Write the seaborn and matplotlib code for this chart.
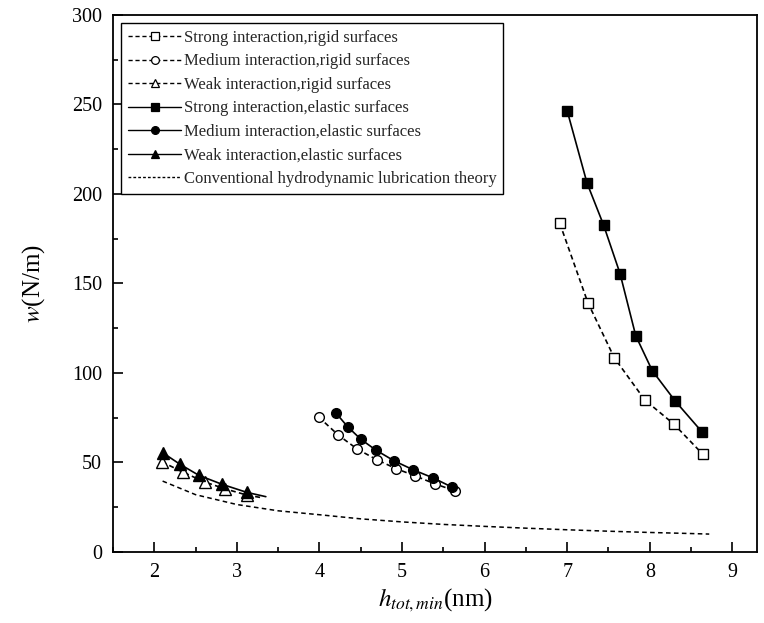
import matplotlib
matplotlib.use("Agg")
import matplotlib.pyplot as plt
import seaborn as sns
from matplotlib.lines import Line2D
from matplotlib.ticker import MultipleLocator

# ---- data ----
strong_rigid_h = [6.91, 7.25, 7.57, 7.94, 8.29, 8.64]
strong_rigid_w = [183.6, 139.3, 108.5, 84.9, 71.5, 54.7]

medium_rigid_h = [3.99, 4.23, 4.46, 4.70, 4.93, 5.16, 5.40, 5.64]
medium_rigid_w = [75.4, 65.2, 57.4, 51.4, 46.5, 42.5, 38.0, 34.2]

weak_rigid_h = [2.09, 2.35, 2.61, 2.86, 3.12, 3.28]
weak_rigid_w = [50.4, 44.5, 39.1, 35.2, 31.8, 30.5]

strong_elastic_h = [7.00, 7.24, 7.44, 7.64, 7.83, 8.03, 8.31, 8.63]
strong_elastic_w = [246.4, 206.1, 182.7, 155.5, 120.8, 101.3, 84.2, 67.2]

medium_elastic_h = [4.20, 4.34, 4.50, 4.68, 4.90, 5.13, 5.38, 5.61]
medium_elastic_w = [77.6, 70.0, 63.0, 57.0, 51.0, 46.0, 41.3, 36.1]

weak_elastic_h = [2.10, 2.31, 2.54, 2.82, 3.12, 3.35]
weak_elastic_w = [55.5, 49.0, 42.8, 37.8, 33.3, 30.9]

conv_h = [2.10, 2.50, 3.00, 3.50, 4.00, 4.50, 5.00, 5.50, 6.00, 6.50, 7.00, 7.50, 8.00, 8.50, 8.72]
conv_w = [39.6, 32.0, 26.5, 23.0, 20.8, 18.5, 16.8, 15.4, 14.3, 13.3, 12.4, 11.6, 10.9, 10.3, 10.0]

labels = [
    "Strong interaction,rigid surfaces",
    "Medium interaction,rigid surfaces",
    "Weak interaction,rigid surfaces",
    "Strong interaction,elastic surfaces",
    "Medium interaction,elastic surfaces",
    "Weak interaction,elastic surfaces",
    "Conventional hydrodynamic lubrication theory",
]

sns.set_theme(style="ticks")
plt.rcParams['font.family'] = ['Liberation Serif', 'DejaVu Serif']
plt.rcParams['mathtext.fontset'] = 'stix'

fig = plt.figure(figsize=(7.64, 6.23), dpi=100)
ax = fig.add_axes([0.148, 0.114, 0.843, 0.862])

dash_rigid = (0, (3, 2))
dash_conv = (0, (3, 2.2))

series = [
    (strong_rigid_h, strong_rigid_w, 's', 'white', dash_rigid, 6.5, None),
    (medium_rigid_h, medium_rigid_w, 'o', 'white', dash_rigid, 7, None),
    (weak_rigid_h, weak_rigid_w, '^', 'white', dash_rigid, 8, list(range(5))),
    (strong_elastic_h, strong_elastic_w, 's', 'black', '-', 6.5, None),
    (medium_elastic_h, medium_elastic_w, 'o', 'black', '-', 7, None),
    (weak_elastic_h, weak_elastic_w, '^', 'black', '-', 8, list(range(5))),
]

for h, w, mk, fc, ls, ms, me in series:
    kw = dict(markevery=me) if me is not None else {}
    sns.lineplot(x=h, y=w, ax=ax, sort=False, estimator=None, legend=False,
                 color='black', linestyle=ls, linewidth=1.2,
                 marker=mk, markersize=ms, markerfacecolor=fc,
                 markeredgecolor='black', markeredgewidth=1.0, **kw)

sns.lineplot(x=conv_h, y=conv_w, ax=ax, sort=False, estimator=None, legend=False,
             color='black', linestyle=dash_conv, linewidth=1.1)

ax.set_xlim(1.5, 9.3)
ax.set_ylim(0, 300)
ax.xaxis.set_major_locator(MultipleLocator(1))
ax.xaxis.set_minor_locator(MultipleLocator(0.5))
ax.yaxis.set_major_locator(MultipleLocator(50))
ax.yaxis.set_minor_locator(MultipleLocator(25))
ax.tick_params(which='both', direction='in', top=False, right=False,
               color='black', width=1.2)
ax.tick_params(which='major', length=7, labelsize=14.5, labelcolor='black', pad=8)
ax.tick_params(which='minor', length=3.5)
for sp in ax.spines.values():
    sp.set_visible(True)
    sp.set_color('black')
    sp.set_linewidth(1.3)

ax.set_xlabel("$h_{tot,min}$(nm)", fontsize=18, color='black', labelpad=3)
ax.set_ylabel("$w$(N/m)", fontsize=18, color='black', labelpad=18)

handles = []
for h, w, mk, fc, ls, ms, me in series:
    handles.append(Line2D([0], [0], color='black', linestyle=ls, linewidth=1.0,
                          marker=mk, markersize=ms * 0.8, markerfacecolor=fc,
                          markeredgecolor='black', markeredgewidth=0.9))
handles.append(Line2D([0], [0], color='black', linestyle=(0, (2, 1.5)), linewidth=1.0))

leg = ax.legend(handles, labels, loc='upper left', fontsize=12,
                frameon=True, fancybox=False, edgecolor='black', framealpha=1,
                handlelength=3.2, handletextpad=0.15, labelspacing=0.45,
                borderpad=0.4, borderaxespad=0.5)
leg.get_frame().set_linewidth(1.0)

fig.savefig("out.png", dpi=100)
